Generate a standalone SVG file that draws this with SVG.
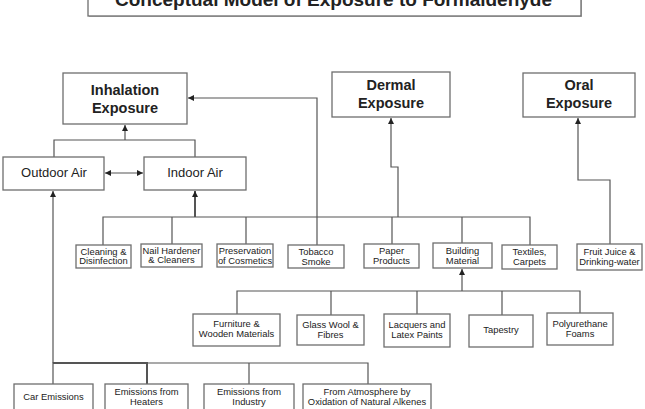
<svg xmlns="http://www.w3.org/2000/svg" width="645" height="409" viewBox="0 0 645 409">
<style>
.box{fill:#fff;stroke:#6e6e6e;stroke-width:1.3}
.ln{fill:none;stroke:#555;stroke-width:1.2}
.thk{stroke-width:2}
.t{font-family:"Liberation Sans",Arial,sans-serif;fill:#222;text-anchor:middle}
.big{font-size:14.5px;font-weight:bold}
.mid{font-size:13px}
.sm{font-size:9.4px}
.title{font-size:19px;font-weight:bold}
</style>
<defs>
<marker id="ah" viewBox="0 0 10 10" refX="10" refY="5" markerWidth="6" markerHeight="6" orient="auto-start-reverse" markerUnits="userSpaceOnUse">
<path d="M0,0 L10,5 L0,10 z" fill="#222"/>
</marker>
</defs>
<rect width="645" height="409" fill="#fff"/>
<g id="title">
<rect x="89" y="-10" width="493" height="27" fill="#bbb"/>
<rect class="box" x="88" y="-11" width="493" height="27"/>
<text class="t title" x="333.5" y="5.5">Conceptual Model of Exposure to Formaldehyde</text>
</g>
<g id="connectors">
<path class="ln" d="M54,157 V140 H195 V157 M125,140 V125" marker-end="url(#ah)"/>
<path class="ln" d="M105,173 H143" marker-start="url(#ah)" marker-end="url(#ah)"/>
<path class="ln" d="M317,245 V98 H188" marker-end="url(#ah)"/>
<path class="ln" d="M103,245 V217 H530 V245 M172,217 V244 M246,217 V244 M392,217 V244 M462,217 V243"/>
<path class="ln thk" d="M195,217 V191" marker-end="url(#ah)"/>
<path class="ln" d="M398,217 V167 H391 V118" marker-end="url(#ah)"/>
<path class="ln" d="M610,244 V180 H578 V118" marker-end="url(#ah)"/>
<path class="ln" d="M237,314 V291 H580 V313 M331,291 V315 M417,291 V314 M502,291 V315"/>
<path class="ln" d="M462,291 V269" marker-end="url(#ah)"/>
<path class="ln" d="M53,384 V363 H368 V384 M249,363 V384"/>
<path class="ln thk" d="M53,363 H147 V384"/>
<path class="ln" d="M53,363 V191" marker-end="url(#ah)"/>
</g>
<g id="inhalation"><rect class="box" x="63" y="73" width="124" height="51"/><text class="t big" x="125" y="95">Inhalation</text><text class="t big" x="125" y="113">Exposure</text></g>
<g id="dermal"><rect class="box" x="332" y="72" width="118" height="45"/><text class="t big" x="391" y="90">Dermal</text><text class="t big" x="391" y="108">Exposure</text></g>
<g id="oral"><rect class="box" x="523" y="73" width="112" height="44"/><text class="t big" x="579" y="90">Oral</text><text class="t big" x="579" y="108">Exposure</text></g>
<g id="outdoor"><rect class="box" x="3" y="157" width="101" height="33"/><text class="t mid" x="54" y="177">Outdoor Air</text></g>
<g id="indoor"><rect class="box" x="144" y="157" width="102" height="33"/><text class="t mid" x="195" y="177">Indoor Air</text></g>
<g id="cleaning"><rect class="box" x="76" y="245" width="55" height="23"/><text class="t sm" x="103.5" y="254.5">Cleaning &amp;</text><text class="t sm" x="103.5" y="264">Disinfection</text></g>
<g id="nail"><rect class="box" x="141" y="244" width="61" height="23"/><text class="t sm" x="171.5" y="253.5">Nail Hardener</text><text class="t sm" x="171.5" y="263">&amp; Cleaners</text></g>
<g id="preservation"><rect class="box" x="217" y="244" width="56" height="23"/><text class="t sm" x="245" y="254">Preservation</text><text class="t sm" x="245" y="264">of Cosmetics</text></g>
<g id="tobacco"><rect class="box" x="288" y="245" width="56" height="23"/><text class="t sm" x="316" y="255">Tobacco</text><text class="t sm" x="316" y="265">Smoke</text></g>
<g id="paper"><rect class="box" x="364" y="244" width="55" height="24"/><text class="t sm" x="391.5" y="254">Paper</text><text class="t sm" x="391.5" y="264">Products</text></g>
<g id="building"><rect class="box" x="433" y="243" width="59" height="25"/><text class="t sm" x="462.5" y="253.5">Building</text><text class="t sm" x="462.5" y="264">Material</text></g>
<g id="textiles"><rect class="box" x="502" y="245" width="55" height="24"/><text class="t sm" x="529.5" y="254.5">Textiles,</text><text class="t sm" x="529.5" y="265">Carpets</text></g>
<g id="fruit"><rect class="box" x="577" y="244" width="65" height="26"/><text class="t sm" x="609.5" y="255">Fruit Juice &amp;</text><text class="t sm" x="609.5" y="264.5">Drinking-water</text></g>
<g id="furniture"><rect class="box" x="193" y="314" width="87" height="32"/><text class="t sm" x="236.5" y="327">Furniture &amp;</text><text class="t sm" x="236.5" y="336.5">Wooden Materials</text></g>
<g id="glass"><rect class="box" x="297" y="315" width="67" height="30"/><text class="t sm" x="330.5" y="328">Glass Wool &amp;</text><text class="t sm" x="330.5" y="337.5">Fibres</text></g>
<g id="lacquers"><rect class="box" x="384" y="314" width="66" height="33"/><text class="t sm" x="417" y="328">Lacquers and</text><text class="t sm" x="417" y="337.5">Latex Paints</text></g>
<g id="tapestry"><rect class="box" x="469" y="315" width="64" height="32"/><text class="t sm" x="501" y="333">Tapestry</text></g>
<g id="polyurethane"><rect class="box" x="547" y="313" width="66" height="32"/><text class="t sm" x="580" y="326.5">Polyurethane</text><text class="t sm" x="580" y="336.5">Foams</text></g>
<g id="car"><rect class="box" x="14" y="384" width="79" height="30"/><text class="t sm" x="53.5" y="400">Car Emissions</text></g>
<g id="heaters"><rect class="box" x="105" y="384" width="83" height="30"/><text class="t sm" x="146.5" y="395">Emissions from</text><text class="t sm" x="146.5" y="404.5">Heaters</text></g>
<g id="industry"><rect class="box" x="204" y="384" width="90" height="30"/><text class="t sm" x="249" y="395">Emissions from</text><text class="t sm" x="249" y="404.5">Industry</text></g>
<g id="atmosphere"><rect class="box" x="303" y="384" width="128" height="30"/><text class="t sm" x="367" y="395">From Atmosphere by</text><text class="t sm" x="367" y="404.5">Oxidation of Natural Alkenes</text></g>
</svg>
